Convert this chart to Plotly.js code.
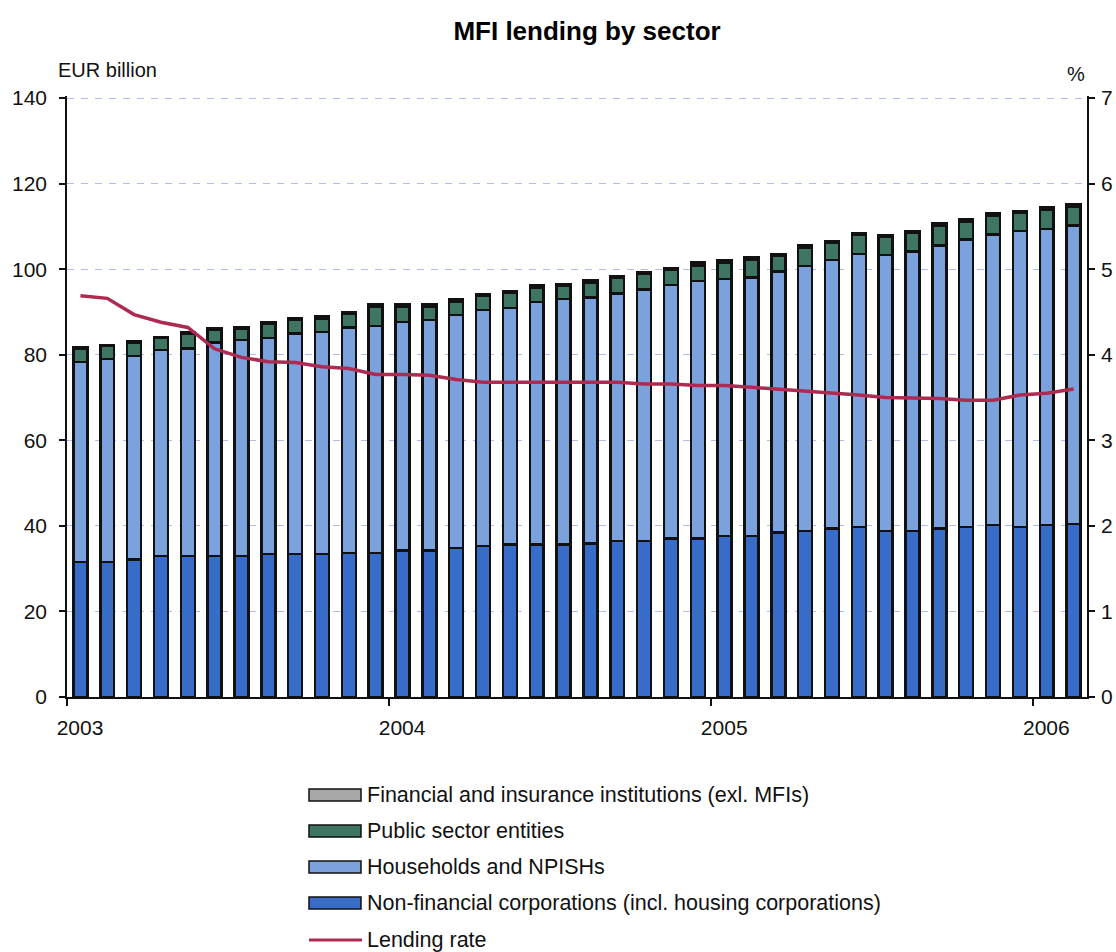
<!DOCTYPE html>
<html>
<head>
<meta charset="utf-8">
<script src="https://cdn.plot.ly/plotly-3.0.1.min.js"></script>
<style>
  body { margin: 0; background: #fff; }
  #grafico { width: 1116px; height: 952px; }
</style>
</head>
<body>
<div id="grafico"></div>
<script>
/* ========= DATA ========= */
const months = [
  "2003-01", "2003-02", "2003-03", "2003-04", "2003-05", "2003-06",
  "2003-07", "2003-08", "2003-09", "2003-10", "2003-11", "2003-12",
  "2004-01", "2004-02", "2004-03", "2004-04", "2004-05", "2004-06",
  "2004-07", "2004-08", "2004-09", "2004-10", "2004-11", "2004-12",
  "2005-01", "2005-02", "2005-03", "2005-04", "2005-05", "2005-06",
  "2005-07", "2005-08", "2005-09", "2005-10", "2005-11", "2005-12",
  "2006-01", "2006-02",
];
const yearLabels = ["2003", "2004", "2005", "2006"];

// EUR billion
const nonFinancial = [
  31.6, 31.6, 32.2, 33.0, 33.0, 33.0, 33.0, 33.4, 33.4, 33.4, 33.7, 33.7,
  34.3, 34.3, 34.8, 35.3, 35.7, 35.7, 35.7, 35.9, 36.5, 36.5, 37.1, 37.1,
  37.6, 37.6, 38.4, 38.8, 39.4, 39.8, 38.8, 38.8, 39.4, 39.8, 40.2, 39.8,
  40.2, 40.5,
];
const households = [
  46.7, 47.4, 47.5, 48.1, 48.5, 49.9, 50.5, 50.5, 51.6, 51.9, 52.7, 53.0,
  53.4, 53.8, 54.5, 55.2, 55.2, 56.7, 57.3, 57.5, 57.8, 58.8, 59.2, 60.2,
  60.1, 60.5, 61.1, 62.0, 62.8, 63.8, 64.5, 65.3, 66.2, 67.2, 67.9, 69.1,
  69.2, 69.7,
];
const publicSector = [
  3.2, 3.0, 3.2, 2.8, 3.4, 2.9, 2.7, 3.3, 3.1, 3.2, 3.1, 4.5,
  3.5, 3.1, 3.2, 3.2, 3.6, 3.3, 3.1, 3.5, 3.7, 3.6, 3.6, 3.6,
  3.9, 4.1, 3.7, 4.3, 4.0, 4.4, 4.3, 4.4, 4.5, 4.1, 4.3, 4.2,
  4.4, 4.5,
];
const financialInst = [
  0.3, 0.3, 0.3, 0.3, 0.3, 0.3, 0.3, 0.3, 0.4, 0.4, 0.4, 0.6,
  0.6, 0.6, 0.6, 0.5, 0.4, 0.6, 0.5, 0.5, 0.4, 0.4, 0.4, 0.7,
  0.6, 0.5, 0.4, 0.4, 0.4, 0.4, 0.4, 0.4, 0.6, 0.5, 0.6, 0.5,
  0.6, 0.6,
];
// %
const lendingRate = [
  4.69, 4.66, 4.47, 4.38, 4.32, 4.07, 3.97, 3.92, 3.91, 3.86, 3.84, 3.77,
  3.77, 3.76, 3.71, 3.68, 3.68, 3.68, 3.68, 3.68, 3.68, 3.66, 3.66, 3.64,
  3.64, 3.62, 3.60, 3.58, 3.56, 3.53, 3.50, 3.50, 3.49, 3.47, 3.47, 3.53,
  3.55, 3.60,
];

const seriesNames = [
  "Financial and insurance institutions (exl. MFIs)",
  "Public sector entities",
  "Households and NPISHs",
  "Non-financial corporations (incl. housing corporations)",
  "Lending rate",
];

/* ========= STYLE ========= */
const colors = {
  fin: "#a8a8a8",
  pub: "#3f7563",
  hh: "#7ca2dd",
  nfc: "#376cc9",
  rate: "#ad2a50",
};
const FONT = "Liberation Sans, Arial, sans-serif";
const W = 1116, H = 952;
const M = { l: 67, r: 29, t: 96, b: 255 };
const plotW = W - M.l - M.r;
const plotH = H - M.t - M.b;
const px = (x) => (x - M.l) / plotW;
const py = (y) => (H - M.b - y) / plotH;

/* ========= TRACES ========= */
const xs = months.map((m, i) => i);
const barLine = { color: "#111", width: 2.5 };

function barTrace(values, name, color) {
  return {
    x: xs,
    y: values,
    name: name,
    type: "bar",
    marker: { color: color, line: barLine },
    hoverinfo: "y+name",
  };
}

const traces = [
  barTrace(nonFinancial, seriesNames[3], colors.nfc),
  barTrace(households, seriesNames[2], colors.hh),
  barTrace(publicSector, seriesNames[1], colors.pub),
  barTrace(financialInst, seriesNames[0], colors.fin),
  {
    x: xs,
    y: lendingRate,
    name: seriesNames[4],
    type: "scatter",
    mode: "lines",
    yaxis: "y2",
    line: { color: colors.rate, width: 3.5 },
  },
];

/* ========= LEGEND (drawn by hand, wide swatches) ========= */
const shapes = [];
const annotations = [];
const legendY = [795, 831, 867, 903, 940];
const swatchColors = [colors.fin, colors.pub, colors.hh, colors.nfc];

seriesNames.forEach((name, i) => {
  const y = legendY[i];
  if (i < 4) {
    shapes.push({
      type: "rect", xref: "paper", yref: "paper",
      x0: px(309), x1: px(361), y0: py(y + 6), y1: py(y - 6),
      fillcolor: swatchColors[i], line: { color: "#111", width: 1.5 },
    });
  } else {
    shapes.push({
      type: "line", xref: "paper", yref: "paper",
      x0: px(309), x1: px(362), y0: py(y), y1: py(y),
      line: { color: colors.rate, width: 3 },
    });
  }
  annotations.push({
    text: name, xref: "paper", yref: "paper",
    x: px(365), y: py(y), xanchor: "left", yanchor: "middle",
    showarrow: false, font: { family: FONT, size: 21.5, color: "#111" },
  });
});

annotations.push(
  {
    text: "EUR billion", xref: "paper", yref: "paper",
    x: px(56), y: py(70), xanchor: "left", yanchor: "middle",
    showarrow: false, font: { family: FONT, size: 20, color: "#111" },
  },
  {
    text: "%", xref: "paper", yref: "paper",
    x: px(1076), y: py(74), xanchor: "center", yanchor: "middle",
    showarrow: false, font: { family: FONT, size: 20, color: "#111" },
  },
);

/* ========= LAYOUT ========= */
const tickCommon = {
  ticks: "outside",
  ticklen: 6,
  tickwidth: 1.5,
  tickcolor: "#111",
  showline: true,
  linecolor: "#111",
  linewidth: 1.5,
  zeroline: false,
  fixedrange: true,
};

const layout = {
  width: W,
  height: H,
  margin: M,
  paper_bgcolor: "#fff",
  plot_bgcolor: "#fff",
  font: { family: FONT, size: 21, color: "#111" },
  title: {
    text: "<b>MFI lending by sector</b>",
    font: { family: FONT, size: 26, color: "#000" },
    x: 0.526, xanchor: "center",
    y: 1 - 31 / H, yref: "container", yanchor: "middle",
  },
  barmode: "stack",
  bargap: 0.48,
  showlegend: false,
  xaxis: {
    ...tickCommon,
    range: [-0.5, months.length - 0.5],
    tickvals: [-0.5, 11.5, 23.5, 35.5],
    ticktext: yearLabels,
    ticklabelshift: 13,
    ticklabelstandoff: 4,
    ticklen: 7,
    showgrid: false,
  },
  yaxis: {
    ...tickCommon,
    // a little headroom so the 140 gridline is not clipped at the edge
    range: [0, 140.5],
    tickvals: [0, 20, 40, 60, 80, 100, 120, 140],
    ticklabelstandoff: 8,
    showgrid: true,
    gridcolor: "#b0bcec",
    gridwidth: 1,
    griddash: "7px,7px",
  },
  yaxis2: {
    ...tickCommon,
    range: [0, 7.025],
    tickvals: [0, 1, 2, 3, 4, 5, 6, 7],
    overlaying: "y",
    side: "right",
    ticklabelstandoff: 2,
    showgrid: false,
  },
  shapes: shapes,
  annotations: annotations,
};

Plotly.newPlot("grafico", traces, layout, { displayModeBar: false, responsive: false });
</script>
</body>
</html>
